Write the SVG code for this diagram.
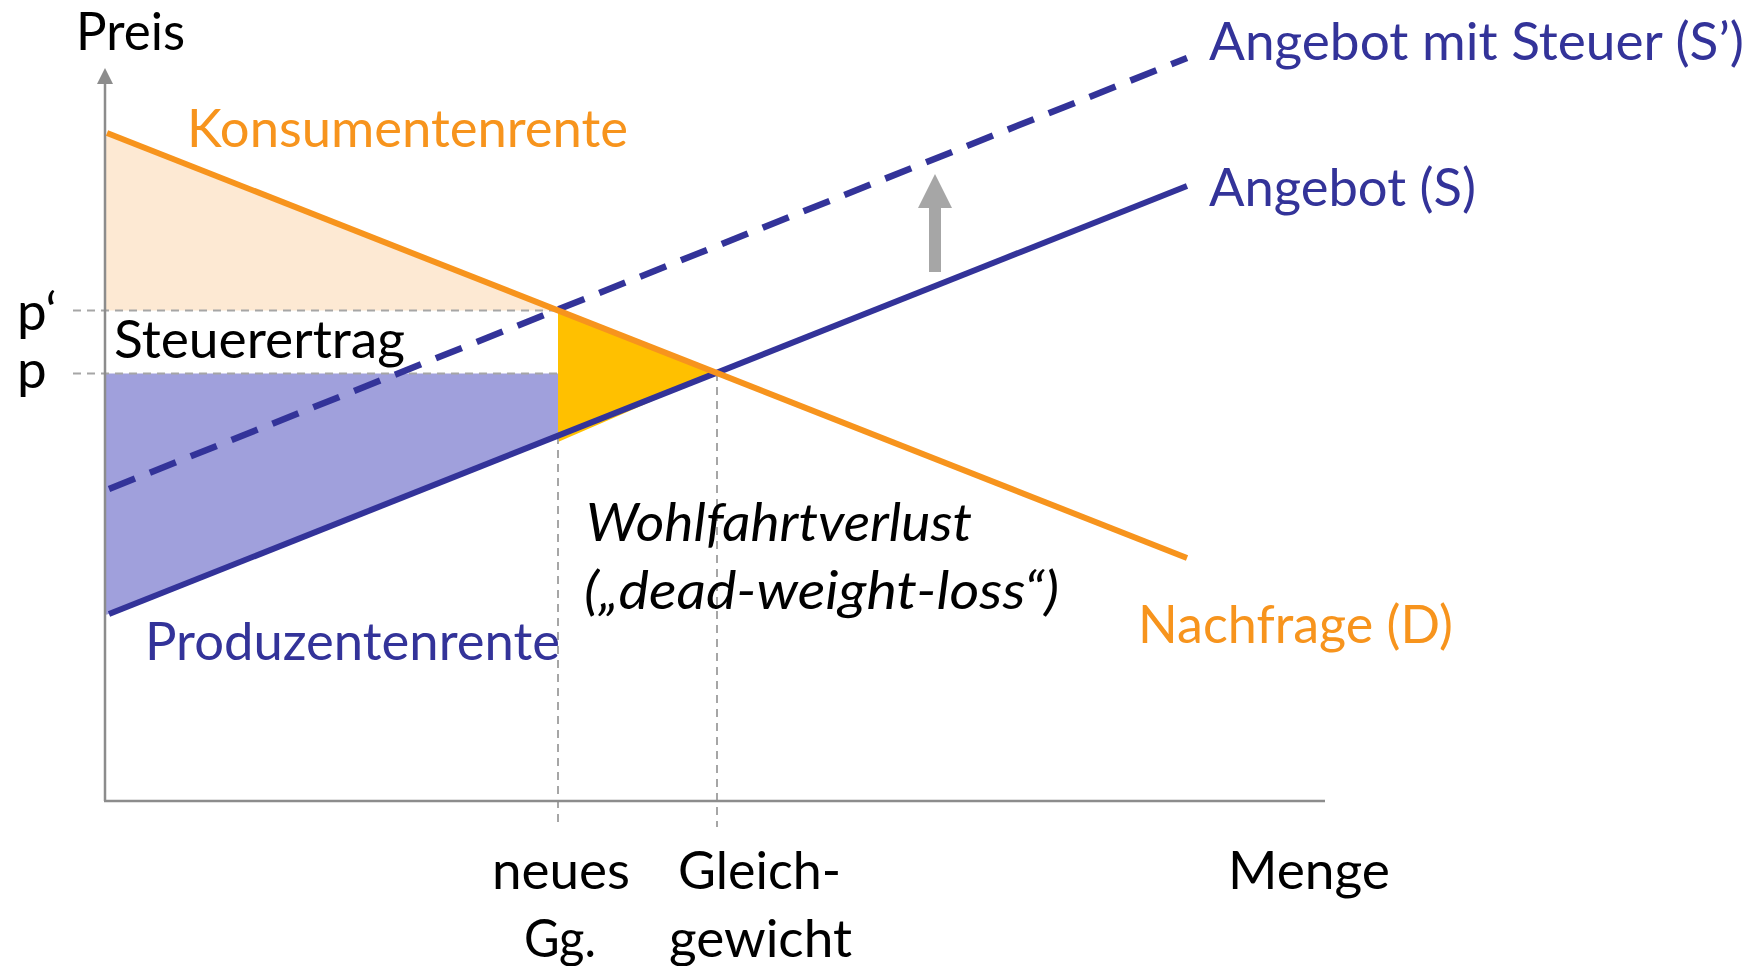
<svg xmlns="http://www.w3.org/2000/svg" width="1764" height="966" viewBox="0 0 1764 966">
<style>
text{font-family:Lato,"Open Sans","Liberation Sans",sans-serif;font-size:53px}
.blk{fill:#000}
.org{fill:#F7941D}
.nav{fill:#333399}
.it{font-style:italic}
.guide{stroke:#A6A6A6;stroke-width:2;stroke-dasharray:8 6;fill:none}
.axis{stroke:#8C8C8C;stroke-width:2.5;fill:none}
</style>
<rect width="1764" height="966" fill="#fff"/>
<g id="areas">
<polygon id="konsumentenrente-area" points="105,134 558,310.5 105,310.5" fill="#FDE9D3"/>
<polygon id="produzentenrente-area" points="105,373.5 558,373.5 558,435.7 109,614 105,615" fill="#A0A0DC"/>
<polygon id="wohlfahrtverlust-area" points="558,310.5 717,373 558,442" fill="#FFC000"/>
</g>
<g id="guides">
<line class="guide" x1="73" y1="310.5" x2="558" y2="310.5"/>
<line class="guide" x1="73" y1="373.5" x2="558" y2="373.5"/>
<line class="guide" x1="558" y1="436" x2="558" y2="827"/>
<line class="guide" x1="717" y1="373" x2="717" y2="827"/>
</g>
<g id="axes">
<line class="axis" x1="105" y1="82" x2="105" y2="801"/>
<polygon points="105,68 97,84 113,84" fill="#8C8C8C"/>
<line class="axis" x1="104" y1="801" x2="1325" y2="801"/>
</g>
<g id="connectors">
<line id="angebot-steuer" x1="109" y1="489" x2="1187" y2="58" stroke="#333399" stroke-width="6.5" stroke-dasharray="28 16"/>
<line id="angebot" x1="109" y1="614" x2="1187" y2="186" stroke="#333399" stroke-width="6"/>
<line id="nachfrage" x1="107" y1="133" x2="1187" y2="558" stroke="#F7941D" stroke-width="6"/>
<g id="shift-arrow">
<rect x="929" y="206" width="12" height="66" fill="#A6A6A6"/>
<polygon points="918,208 952,208 935,174" fill="#A6A6A6"/>
</g>
</g>
<g id="labels">
<text id="preis" class="blk" x="76" y="50" font-size="47" textLength="109" lengthAdjust="spacingAndGlyphs">Preis</text>
<text id="menge" class="blk" x="1228" y="889" font-size="51" textLength="162" lengthAdjust="spacingAndGlyphs">Menge</text>
<text id="p-strich" class="blk" x="17" y="330" font-size="51">p‘</text>
<text id="p" class="blk" x="17" y="388" font-size="51">p</text>
<text class="blk" x="492" y="889" font-size="51" textLength="138" lengthAdjust="spacingAndGlyphs">neues</text>
<text class="blk" x="524" y="957" font-size="51" textLength="72" lengthAdjust="spacingAndGlyphs">Gg.</text>
<text class="blk" x="678" y="889" font-size="51" textLength="163" lengthAdjust="spacingAndGlyphs">Gleich-</text>
<text class="blk" x="669" y="957" font-size="51" textLength="183" lengthAdjust="spacingAndGlyphs">gewicht</text>
</g>
<g id="node-angebot-steuer"><text class="nav" x="1209" y="60" textLength="535" lengthAdjust="spacingAndGlyphs">Angebot mit Steuer (S’)</text></g>
<g id="node-angebot"><text class="nav" x="1209" y="206" textLength="267" lengthAdjust="spacingAndGlyphs">Angebot (S)</text></g>
<g id="node-konsumentenrente"><text class="org" x="187" y="147" textLength="441" lengthAdjust="spacingAndGlyphs">Konsumentenrente</text></g>
<g id="node-steuerertrag"><text class="blk" x="114" y="358" textLength="291" lengthAdjust="spacingAndGlyphs">Steuerertrag</text></g>
<g id="node-produzentenrente"><text class="nav" x="145" y="660" textLength="415" lengthAdjust="spacingAndGlyphs">Produzentenrente</text></g>
<g id="node-wohlfahrtverlust">
<text class="blk it" x="586" y="541" textLength="386" lengthAdjust="spacingAndGlyphs">Wohlfahrtverlust</text>
<text class="blk it" x="584" y="609" textLength="475" lengthAdjust="spacingAndGlyphs">(„dead-weight-loss“)</text>
</g>
<g id="node-nachfrage"><text class="org" x="1138" y="643" textLength="315" lengthAdjust="spacingAndGlyphs">Nachfrage (D)</text></g>
</svg>
